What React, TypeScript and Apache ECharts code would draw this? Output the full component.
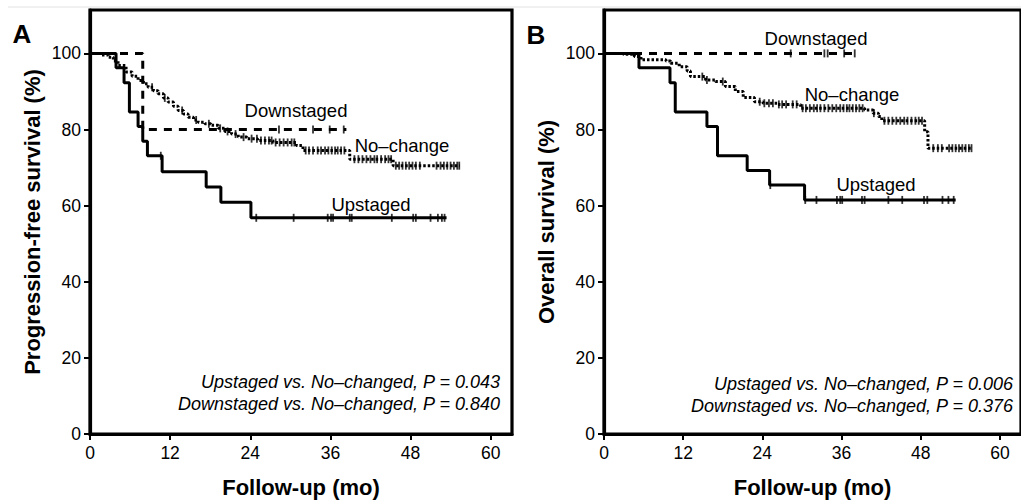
import React, { useEffect, useRef } from "react";
import * as echarts from "echarts";

// ---------- axis ticks ----------
const xTicks = [0, 12, 24, 36, 48, 60];
const yTicks = [0, 20, 40, 60, 80, 100];

// ---------- Panel A: progression-free survival ----------
const pfsUpstaged: number[][] = [
  [0, 100], [3.9, 96.2], [5.1, 92.3], [5.9, 84.6], [7.2, 80.8], [7.9, 76.9], [8.6, 73.1],
  [10.8, 68.9], [17.4, 64.9], [19.6, 60.9], [24.1, 56.8], [53.4, 56.8],
];
const pfsUpstagedCensor = [10.6, 24.9, 30.5, 35.6, 36.1, 36.4, 38.9, 39.2, 45.2, 48.4, 48.8, 51.0, 52.1, 52.7, 53.1];

const pfsDownstaged: number[][] = [[0, 100], [7.9, 80], [38.4, 80]];
const pfsDownstagedCensor = [28.3, 33.4, 35.9, 38.0];

const pfsNoChange: number[][] = [
  [0, 100], [1.5, 99.6], [2.7, 99.0], [3.5, 98.0], [4.2, 96.8], [5.4, 95.1], [6.3, 94.0],
  [7.2, 92.9], [8.0, 92.0], [8.7, 91.1], [9.5, 90.2], [10.2, 89.4], [11.0, 88.3], [11.7, 87.2],
  [12.5, 86.1], [13.2, 85.0], [14.0, 84.1], [14.7, 83.2], [15.5, 82.5], [16.2, 81.9], [17.2, 81.5],
  [18.1, 81.1], [19.2, 80.3], [20.2, 79.5], [21.2, 78.8], [22.2, 78.0], [23.5, 77.6], [25.1, 77.1],
  [27.4, 76.6], [30.9, 75.8], [31.9, 74.5], [38.9, 72.2], [45.4, 70.5], [55.4, 70.5],
];
const pfsNoChangeCensor = [
  9.3, 11.2, 13.8, 15.9, 17.8, 19.5, 20.6, 21.8, 23.0, 24.2, 25.0, 25.6, 26.2, 26.8, 27.2, 27.8,
  28.4, 29.0, 29.6, 30.2, 30.6, 32.3, 32.8, 33.4, 34.1, 34.6, 35.2, 35.7, 36.2, 36.7, 37.1, 37.6,
  38.1, 39.6, 40.2, 40.8, 41.4, 42.0, 42.6, 43.0, 43.6, 44.2, 44.7, 45.1, 45.8, 46.3, 46.8, 47.3,
  47.8, 48.3, 48.8, 49.4, 51.9, 52.5, 53.0, 53.5, 54.0, 54.5, 55.0, 55.3,
];

// ---------- Panel B: overall survival ----------
const osUpstaged: number[][] = [
  [0, 100], [5.3, 96.2], [10.0, 92.3], [10.8, 84.6], [15.6, 80.8], [17.2, 73.1], [21.7, 69.2],
  [25.1, 65.4], [30.4, 61.5], [53.3, 61.5],
];
const osUpstagedCensor = [25.2, 30.5, 32.2, 35.3, 35.8, 36.1, 39.1, 39.5, 43.1, 45.2, 48.5, 49.0, 51.3, 52.2, 53.0];

const osDownstaged: number[][] = [[0, 100], [38.3, 100]];
const osDownstagedCensor = [28.3, 33.4, 33.9, 36.4, 38.0];

const osNoChange: number[][] = [
  [0, 100], [2.9, 99.8], [4.6, 99.2], [5.6, 98.3], [9.4, 98.0], [10.1, 97.4], [11.4, 96.5],
  [12.6, 95.4], [13.1, 93.9], [15.4, 93.0], [16.9, 92.6], [18.4, 91.3], [19.9, 90.0], [21.1, 88.4],
  [22.8, 87.3], [24.1, 86.9], [26.3, 86.6], [29.8, 85.6], [39.5, 85.1], [40.8, 84.3], [41.6, 83.4],
  [42.1, 82.3], [48.6, 79.4], [49.1, 75.1], [55.8, 75.1],
];
const osNoChangeCensor = [
  14.9, 15.6, 18.0, 23.6, 24.3, 25.0, 25.6, 26.5, 27.0, 27.6, 28.6, 29.2, 30.1, 30.6, 31.2, 31.8,
  32.3, 32.8, 33.4, 34.0, 34.6, 35.2, 35.8, 36.3, 36.8, 37.2, 37.7, 38.2, 38.7, 39.2, 40.9, 42.5,
  43.1, 43.7, 44.3, 44.9, 45.5, 46.0, 46.6, 47.2, 47.7, 48.2, 49.9, 50.6, 51.2, 52.3, 52.8, 53.3,
  53.8, 54.3, 54.8, 55.3, 55.7,
];

// ---------- texts ----------
const panelLabels = ["A", "B"];
const yAxisNames = ["Progression-free survival (%)", "Overall survival (%)"];
const xAxisName = "Follow-up (mo)";
const groupNames = ["Downstaged", "No–change", "Upstaged"];
const pTextsA = ["Upstaged vs. No–changed, P = 0.043", "Downstaged vs. No–changed, P = 0.840"];
const pTextsB = ["Upstaged vs. No–changed, P = 0.006", "Downstaged vs. No–changed, P = 0.376"];

const FONT = "'Liberation Sans', Arial, Helvetica, sans-serif";

function stepAt(curve: number[][], t: number): number {
  let v = curve[0][1];
  for (const [x, y] of curve) {
    if (x <= t) v = y;
    else break;
  }
  return v;
}

function censorPoints(curve: number[][], times: number[]) {
  return times.map((t) => [t, stepAt(curve, t)]);
}

function makeAxes(idx: number) {
  const xAxis = {
    type: "value",
    gridIndex: idx,
    min: 0,
    max: 63.2,
    axisLine: { show: true, onZero: false, lineStyle: { color: "#000", width: 3.2 } },
    axisTick: { show: true, length: 6, customValues: xTicks, lineStyle: { color: "#000", width: 2 } },
    axisLabel: { customValues: xTicks, color: "#000", fontSize: 17.5, fontFamily: FONT, margin: 10 },
    splitLine: { show: false },
    name: xAxisName,
    nameLocation: "middle",
    nameGap: 42,
    nameTextStyle: { color: "#000", fontSize: 22, fontWeight: "bold", fontFamily: FONT },
  };
  const yAxis = {
    type: "value",
    gridIndex: idx,
    min: 0,
    max: 111.4,
    axisLine: { show: true, onZero: false, lineStyle: { color: "#000", width: 3.2 } },
    axisTick: { show: true, length: 6, customValues: yTicks, lineStyle: { color: "#000", width: 2 } },
    axisLabel: { customValues: yTicks, color: "#000", fontSize: 17.5, fontFamily: FONT, margin: 9 },
    splitLine: { show: false },
    name: yAxisNames[idx],
    nameLocation: "middle",
    nameGap: 47,
    nameTextStyle: { color: "#000", fontSize: 22, fontWeight: "bold", fontFamily: FONT },
  };
  return { xAxis, yAxis };
}

function lineSeries(idx: number, data: number[][], type: any, width: number) {
  return {
    type: "line",
    xAxisIndex: idx,
    yAxisIndex: idx,
    step: "end",
    showSymbol: false,
    symbol: "none",
    data,
    lineStyle: { color: "#000", width, type },
    z: 3,
  };
}

function censorSeries(idx: number, curve: number[][], times: number[]) {
  return {
    type: "scatter",
    xAxisIndex: idx,
    yAxisIndex: idx,
    symbol: "rect",
    symbolSize: [1.8, 8],
    data: censorPoints(curve, times),
    itemStyle: { color: "#000" },
    z: 4,
  };
}

function txt(x: number, y: number, text: string, opts: any = {}) {
  return {
    type: "text",
    x,
    y,
    style: {
      text,
      fill: "#000",
      font: opts.font || `18.5px ${FONT}`,
      textAlign: opts.align || "center",
      textVerticalAlign: "middle",
    },
    z: 10,
  };
}

export default function App() {
  const ref = useRef<HTMLDivElement>(null);
  useEffect(() => {
    if (!ref.current) return;
    const chart = echarts.init(ref.current, undefined, { renderer: "svg" });
    const a = makeAxes(0);
    const b = makeAxes(1);
    const italic = `italic 18px ${FONT}`;
    chart.setOption({
      animation: false,
      backgroundColor: "#fff",
      grid: [
        { left: 90, top: 10, width: 422, height: 424, show: true, borderColor: "#000", borderWidth: 3.2, backgroundColor: "transparent" },
        { left: 604, top: 10, width: 422, height: 424, show: true, borderColor: "#000", borderWidth: 3.2, backgroundColor: "transparent" },
      ],
      xAxis: [a.xAxis, b.xAxis],
      yAxis: [a.yAxis, b.yAxis],
      series: [
        lineSeries(0, pfsNoChange, [2.5, 2], 3),
        lineSeries(0, pfsDownstaged, [8, 7], 3),
        lineSeries(0, pfsUpstaged, "solid", 3),
        censorSeries(0, pfsNoChange, pfsNoChangeCensor),
        censorSeries(0, pfsDownstaged, pfsDownstagedCensor),
        censorSeries(0, pfsUpstaged, pfsUpstagedCensor),
        lineSeries(1, osNoChange, [2.5, 2], 3),
        lineSeries(1, osDownstaged, [8, 7], 3),
        lineSeries(1, osUpstaged, "solid", 3),
        censorSeries(1, osNoChange, osNoChangeCensor),
        censorSeries(1, osDownstaged, osDownstagedCensor),
        censorSeries(1, osUpstaged, osUpstagedCensor),
      ],
      graphic: [
        { type: "line", shape: { x1: 8, y1: 7, x2: 1021, y2: 7 }, style: { stroke: "#e2e2e2", lineWidth: 1 }, z: 1 },
        txt(22, 34, panelLabels[0], { font: `bold 26px ${FONT}` }),
        txt(536, 35, panelLabels[1], { font: `bold 26px ${FONT}` }),
        txt(296, 110, groupNames[0]),
        txt(402, 145, groupNames[1]),
        txt(371, 204, groupNames[2]),
        txt(816, 38, groupNames[0]),
        txt(852, 94, groupNames[1]),
        txt(876, 184, groupNames[2]),
        txt(500, 382, pTextsA[0], { font: italic, align: "right" }),
        txt(500, 404, pTextsA[1], { font: italic, align: "right" }),
        txt(1013, 384, pTextsB[0], { font: italic, align: "right" }),
        txt(1013, 406, pTextsB[1], { font: italic, align: "right" }),
      ],
    });
    return () => chart.dispose();
  }, []);
  return (
    <div
      ref={ref}
      style={{ position: "fixed", left: 0, top: 0, width: 1021, height: 503, background: "#fff" }}
    />
  );
}
